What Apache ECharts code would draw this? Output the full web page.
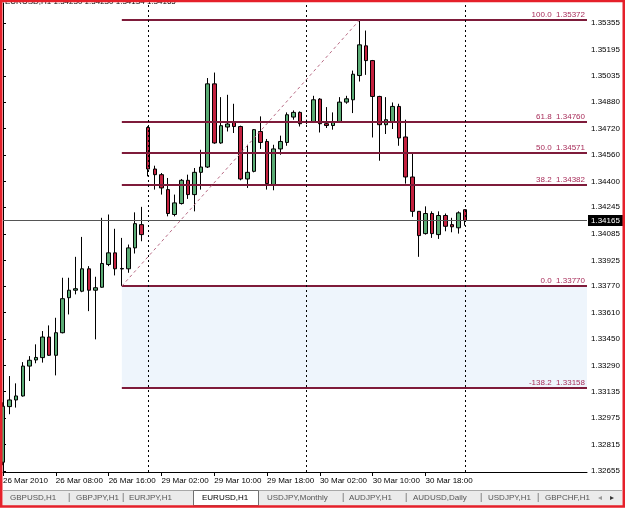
<!DOCTYPE html>
<html><head><meta charset="utf-8">
<script src="https://cdn.jsdelivr.net/npm/echarts@6/dist/echarts.min.js"></script>
<style>html,body{margin:0;padding:0;background:#fff;overflow:hidden}#c{width:625px;height:508px}</style>
</head><body><div id="c"></div>
<script>
// ---- data (EURUSD, H1) ----
const opens  = [1.32709,1.33044,1.33084,1.33108,1.33288,1.33325,1.33339,1.33463,1.33353,1.33489,1.33700,1.33745,1.33739,1.33874,1.33745,1.33763,1.33900,1.33970,1.33873,1.33874,1.34000,1.34140,
                1.34725,1.34475,1.34441,1.34351,1.34201,1.34267,1.34407,1.34321,1.34455,1.34487,1.34988,1.34632,1.34728,1.34756,1.34731,1.34415,1.34461,1.34701,1.34641,1.34381,1.34596,1.34635,1.34788,1.34816,
                1.34756,1.34756,1.34896,1.34748,1.34737,1.34756,1.34878,1.34892,1.35038,1.35217,1.35128,1.34912,1.34742,1.34761,1.34852,1.34668,1.34427,1.34220,1.34086,1.34207,1.34080,1.34195,1.34140,1.34121,
                1.34230];
const highs  = [1.33070,1.33228,1.33184,1.33312,1.33348,1.33419,1.33499,1.33533,1.33579,1.33820,1.33820,1.33946,1.34066,1.33890,1.33826,1.34181,1.34201,1.34115,1.34060,1.34020,1.34214,1.34247,
                1.34733,1.34495,1.34451,1.34421,1.34321,1.34415,1.34441,1.34481,1.34591,1.35023,1.35056,1.34908,1.34922,1.34868,1.34736,1.34621,1.34716,1.34792,1.34656,1.34621,1.34676,1.34816,1.34828,1.34822,
                1.34772,1.34916,1.34902,1.34848,1.34816,1.34908,1.34916,1.35068,1.35372,1.35309,1.35132,1.34916,1.34908,1.34876,1.34868,1.34772,1.34567,1.34220,1.34250,1.34220,1.34220,1.34207,1.34181,1.34220,
                1.34230];
const lows   = [1.32691,1.32998,1.33038,1.33104,1.33198,1.33305,1.33309,1.33349,1.33232,1.33485,1.33599,1.33720,1.33733,1.33619,1.33449,1.33760,1.33890,1.33834,1.33770,1.33850,1.33966,1.34040,
                1.34431,1.34351,1.34321,1.34190,1.34190,1.34261,1.34295,1.34220,1.34351,1.34481,1.34627,1.34627,1.34701,1.34692,1.34407,1.34361,1.34455,1.34596,1.34351,1.34347,1.34561,1.34615,1.34772,1.34731,
                1.34745,1.34752,1.34695,1.34722,1.34712,1.34752,1.34868,1.34812,1.35002,1.35042,1.34665,1.34525,1.34686,1.34716,1.34615,1.34387,1.34187,1.33946,1.34080,1.34060,1.34054,1.34100,1.34094,1.34086,
                1.34134];
const closes = [1.33046,1.33084,1.33108,1.33288,1.33323,1.33340,1.33463,1.33353,1.33489,1.33694,1.33745,1.33754,1.33874,1.33745,1.33760,1.33906,1.33970,1.33874,1.33876,1.34000,1.34146,1.34080,
                1.34475,1.34441,1.34361,1.34207,1.34271,1.34407,1.34321,1.34455,1.34487,1.34988,1.34632,1.34736,1.34746,1.34731,1.34415,1.34455,1.34712,1.34635,1.34387,1.34596,1.34641,1.34802,1.34816,1.34748,
                1.34757,1.34892,1.34748,1.34737,1.34761,1.34878,1.34898,1.35046,1.35223,1.35128,1.34912,1.34742,1.34772,1.34852,1.34662,1.34427,1.34220,1.34074,1.34207,1.34086,1.34195,1.34130,1.34127,1.34211,
                1.34165];
const timeLabelIdx = [0, 8, 16, 24, 32, 40, 48, 56, 64];
const timeLabels = ['26 Mar 2010','26 Mar 08:00','26 Mar 16:00','29 Mar 02:00','29 Mar 10:00','29 Mar 18:00','30 Mar 02:00','30 Mar 10:00','30 Mar 18:00'];
const priceTicks = [1.35355,1.35195,1.35035,1.34880,1.34720,1.34560,1.34400,1.34245,1.34085,1.33925,1.33770,1.33610,1.33450,1.33290,1.33135,1.32975,1.32815,1.32655];
const fibLevels = [100.0, 61.8, 50.0, 38.2, 0.0, -138.2];
const fibPrices = [1.35372, 1.34760, 1.34571, 1.34382, 1.33770, 1.33158];
const fibFromBar = 18, fibToBar = 54;
const daySeparators = [22, 46, 70];
const lastPrice = 1.34165;
const header = 'EURUSD,H1 1.34230 1.34230 1.34134 1.34165';
const tabNames = ['GBPUSD,H1','GBPJPY,H1','EURJPY,H1','EURUSD,H1','USDJPY,Monthly','AUDJPY,H1','AUDUSD,Daily','USDJPY,H1','GBPCHF,H1'];
const activeTab = 'EURUSD,H1';

// ---- build ----
const FONT = 'Liberation Sans';
const X_MIN = 0, X_MAX = 88.46;
const candles = opens.map((o, i) => [i, o, closes[i], lows[i], highs[i]]);

const markLines = [];
fibPrices.forEach((p, k) => {
  markLines.push([
    { coord: [fibFromBar, p],
      lineStyle: { color: '#7e1b3a', width: 2, type: 'solid' },
      label: { show: true, position: 'insideEndTop', distance: [2, 1], formatter: fibLevels[k].toFixed(1) + '  ' + p.toFixed(5),
               color: '#a82d5a', fontSize: 8, fontFamily: FONT } },
    { coord: [X_MAX, p] }
  ]);
});
markLines.push([
  { coord: [fibFromBar, fibPrices[4]], lineStyle: { color: '#b86a84', width: 1, type: [3, 3] }, label: { show: false } },
  { coord: [fibToBar, fibPrices[0]] }
]);
daySeparators.forEach(s => markLines.push({ xAxis: s, lineStyle: { color: '#000', width: 1, type: [2, 3] }, label: { show: false } }));
markLines.push([
  { coord: [X_MIN, lastPrice], lineStyle: { color: '#555', width: 1, type: 'solid' },
    label: { show: true, position: 'end', distance: 1, formatter: lastPrice.toFixed(5), color: '#fff', backgroundColor: '#000',
             padding: [2, 3, 1, 3], fontSize: 8, fontFamily: FONT } },
  { coord: [X_MAX, lastPrice] }
]);

const tabX = [10, 76, 129, 202, 267, 349, 413, 488, 545];
const sepX = [68, 122, 342, 405, 480, 537];
const graphics = [
  { type: 'rect', shape: { x: 3, y: 490, width: 619, height: 16 }, style: { fill: '#ebebeb' }, z: 10 },
  { type: 'line', shape: { x1: 3, y1: 490.5, x2: 622, y2: 490.5 }, style: { stroke: '#a8a8a8', lineWidth: 1 }, z: 11 },
  { type: 'rect', shape: { x: 193.5, y: 490.5, width: 65, height: 15 }, style: { fill: '#fff', stroke: '#707070', lineWidth: 1 }, z: 11 }
];
tabNames.forEach((t, k) => graphics.push({ type: 'text', x: tabX[k], y: 498, z: 12,
  style: { text: t, fill: t === activeTab ? '#000' : '#555', font: '8px "' + FONT + '"', verticalAlign: 'middle' } }));
sepX.forEach(x => graphics.push({ type: 'text', x: x, y: 498, z: 12, style: { text: '|', fill: '#666', font: '9px "' + FONT + '"', verticalAlign: 'middle' } }));
graphics.push({ type: 'rect', shape: { x: 593, y: 491, width: 29, height: 14 }, style: { fill: '#ebebeb' }, z: 13 });
graphics.push({ type: 'text', x: 598, y: 498, z: 14, style: { text: '\u25C2', fill: '#999', font: '8px "DejaVu Sans"', verticalAlign: 'middle' } });
graphics.push({ type: 'text', x: 610, y: 498, z: 14, style: { text: '\u25B8', fill: '#333', font: '8px "DejaVu Sans"', verticalAlign: 'middle' } });
graphics.push({ type: 'text', x: 5, y: -2, z: 14, style: { text: header, fill: '#000', font: '8px "' + FONT + '"', verticalAlign: 'top' } });
graphics.push({ type: 'rect', shape: { x: 1.25, y: 1, width: 622.5, height: 505.5 }, style: { fill: null, stroke: '#e5202a', lineWidth: 2.5 }, z: 20 });

const chart = echarts.init(document.getElementById('c'), null, { renderer: 'canvas' });
chart.setOption({
  animation: false,
  backgroundColor: '#fff',
  grid: { left: 2.3, right: 38, top: 3, bottom: 36, containLabel: false },
  xAxis: {
    type: 'value', min: X_MIN, max: X_MAX,
    axisLine: { show: true, onZero: false, lineStyle: { color: '#000', width: 1 } },
    axisTick: { show: true, length: 4, customValues: timeLabelIdx, lineStyle: { color: '#000' } },
    axisLabel: { show: true, customValues: timeLabelIdx, align: 'left', margin: 5, color: '#000', fontSize: 8, fontFamily: FONT,
      showMinLabel: true, formatter: v => timeLabels[timeLabelIdx.indexOf(Math.round(v))] },
    splitLine: { show: false }
  },
  yAxis: {
    type: 'value', position: 'right', min: 1.3265, max: 1.35475, scale: true,
    axisLine: { show: true, lineStyle: { color: '#000', width: 1 } },
    axisTick: { show: true, length: 3, customValues: priceTicks, lineStyle: { color: '#000' } },
    axisLabel: { show: true, customValues: priceTicks, margin: 4, color: '#000', fontSize: 8, fontFamily: FONT,
      formatter: v => v.toFixed(5) },
    splitLine: { show: false }
  },
  series: [{
    type: 'candlestick',
    data: candles,
    encode: { x: 0, y: [1, 2, 3, 4] },
    barWidth: 4,
    itemStyle: { color: '#5aab74', color0: '#c4213f', borderColor: '#000', borderColor0: '#000', borderWidth: 1 },
    emphasis: { disabled: true },
    markArea: { silent: true, data: [[{ coord: [fibFromBar, fibPrices[4]], itemStyle: { color: '#eef5fc' } }, { coord: [X_MAX, fibPrices[5]] }]] },
    markLine: { silent: true, symbol: ['none', 'none'], animation: false, data: markLines }
  }],
  graphic: graphics
});
</script></body></html>
